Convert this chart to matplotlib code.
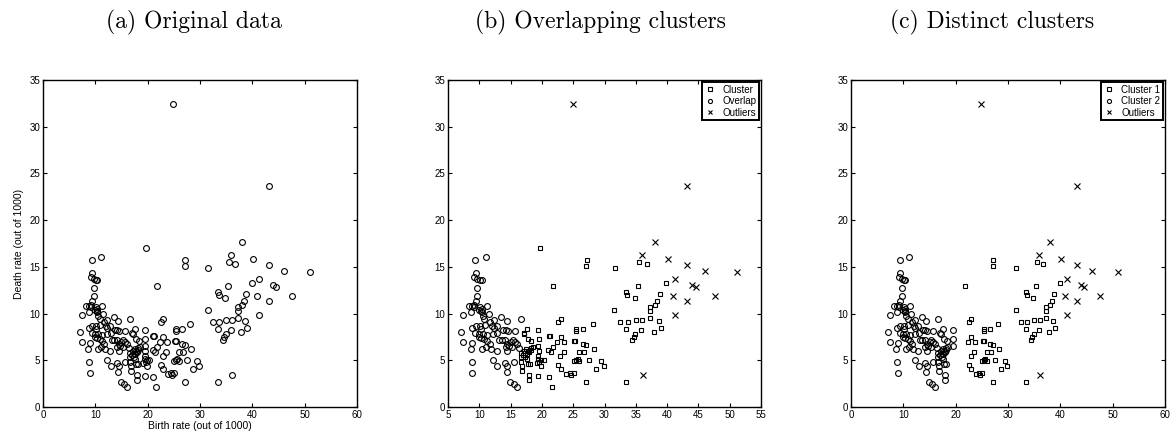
import numpy as np
import matplotlib
matplotlib.use("Agg")
from matplotlib import pyplot as plt

plt.rcParams["font.family"] = ["Liberation Sans", "DejaVu Sans"]

# low birth rate group: overlap points in (b), cluster 2 in (c)
left_birth = [9.3, 11.0, 9.43, 9.1, 9.7, 10.06, 10.4, 9.7, 9.7, 9.43, 9.1, 8.3, 8.85, 9.1,
              10.06, 11.2, 10.4, 9.9, 10.25, 8.7, 10.4, 7.4, 11.5, 10.6, 10.8, 12.3, 13.5,
              14.4, 16.7, 11.7, 9.43, 10.06, 10.95, 12.1, 12.8, 12.3, 8.8, 10.2, 9.3, 9.9,
              10.6, 11.3, 12.2, 12.9, 13.8, 14.2, 14.6, 15.7, 7.0, 7.45, 8.9, 9.9, 10.3,
              10.8, 11.3, 11.7, 11.9, 12.8, 13.1, 13.6, 14.1, 14.5, 15.0, 15.35, 15.7, 16.1,
              14.2, 14.7, 14.5, 15.2, 10.5, 8.6, 11.1, 16.4, 8.85, 8.9, 12.2, 12.9, 14.1,
              14.5, 14.4, 15.6, 14.9, 15.5, 16.0]
left_death = [15.7, 16.07, 14.36, 13.93, 13.75, 13.64, 13.54, 12.75, 11.86, 11.3, 10.9, 10.86,
              10.8, 10.75, 10.7, 10.8, 10.5, 10.36, 10.25, 10.14, 10.14, 9.82, 9.93, 9.7,
              9.46, 9.36, 9.64, 9.2, 9.43, 9.07, 8.71, 8.68, 8.79, 8.64, 8.71, 8.43, 8.43,
              8.36, 7.96, 7.79, 7.79, 7.75, 7.79, 7.89, 8.29, 8.29, 8.14, 8.18, 8.04, 6.93,
              6.86, 7.5, 7.43, 7.29, 7.07, 6.79, 6.25, 6.0, 7.21, 7.18, 7.14, 6.79, 7.0, 7.21,
              6.96, 6.79, 6.46, 6.5, 5.96, 6.43, 6.25, 6.25, 6.43, 6.32, 4.82, 3.61, 5.04,
              4.43, 4.68, 4.43, 3.75, 4.86, 2.64, 2.43, 2.14]

# cluster points in (b) that join cluster 2 in (c)
mid_birth = [17.6, 19.4, 19.55, 19.4, 16.6, 17.2, 17.5, 17.8, 18.2, 18.5, 17.0, 17.3, 17.6,
             18.0, 18.2, 17.6, 16.7, 16.7, 16.8, 16.8, 17.8, 18.1, 18.0, 18.0, 17.1, 17.7,
             18.3, 17.2]
mid_death = [8.36, 8.25, 7.32, 6.5, 5.82, 6.0, 6.18, 6.04, 6.36, 6.43, 5.54, 5.36, 5.68,
             5.86, 6.07, 5.18, 5.36, 4.82, 4.36, 3.82, 4.64, 4.64, 3.43, 2.93, 7.93, 7.25,
             7.1, 7.82]

# cluster points in (b) left out of both distinct clusters
gap_birth = [19.7, 19.5, 19.4, 19.4, 19.2, 19.6, 19.9, 19.9, 20.3, 19.4, 21.1, 21.65, 21.0,
             21.4, 21.1, 21.3, 21.7]
gap_death = [17.07, 6.0, 5.5, 5.14, 4.71, 4.82, 4.43, 5.0, 5.07, 3.29, 3.2, 2.14, 6.14,
             5.93, 7.57, 7.57, 6.43]

# high birth rate group: cluster in (b), cluster 1 in (c)
right_birth = [21.8, 27.2, 27.1, 31.6, 35.5, 36.75, 39.9, 35.3, 33.4, 33.6, 34.8, 38.8, 38.4,
               38.0, 37.3, 37.2, 31.5, 32.5, 33.7, 35.0, 36.05, 37.3, 38.65, 39.05, 33.4,
               35.9, 37.9, 34.9, 34.65, 34.4, 33.4, 23.0, 22.5, 22.4, 23.6, 23.0, 25.5, 25.5,
               26.5, 28.1, 23.5, 22.9, 25.2, 25.35, 25.9, 26.8, 26.5, 27.1, 28.3, 25.05, 25.7,
               25.9, 25.5, 27.5, 29.4, 29.9, 28.6, 22.5, 23.0, 23.9, 24.5, 24.65, 25.1, 27.1]
right_death = [13.0, 15.7, 15.07, 14.9, 15.5, 15.3, 13.3, 12.96, 12.3, 12.0, 11.7, 12.07,
               11.36, 10.96, 10.7, 10.3, 10.4, 9.14, 9.07, 9.32, 9.32, 9.5, 9.2, 8.5, 8.32,
               8.25, 8.0, 7.8, 7.5, 7.2, 2.68, 9.43, 9.07, 6.93, 6.93, 7.5, 8.4, 8.14, 8.32,
               8.93, 5.9, 5.43, 7.03, 7.1, 5.93, 5.86, 6.7, 6.6, 6.2, 4.93, 5.14, 4.93, 5.07,
               5.04, 4.93, 4.43, 4.04, 4.46, 4.1, 3.5, 3.68, 3.43, 3.64, 2.68]

outlier_birth = [24.9, 43.2, 38.1, 36.0, 40.1, 43.1, 46.05, 51.1, 41.3, 43.9, 44.6, 40.95,
                 43.25, 47.6, 41.3, 36.2]
outlier_death = [32.4, 23.7, 17.7, 16.3, 15.8, 15.25, 14.6, 14.5, 13.75, 13.1, 12.85, 11.85,
                 11.3, 11.9, 9.9, 3.4]

titles = ["(a) Original data", "(b) Overlapping clusters", "(c) Distinct clusters"]
title_x = [194, 600, 992]


def pts(*groups):
    return np.concatenate([np.asarray(g, dtype=float) for g in groups])


def style_axes(ax, xticks):
    ax.set_xlim(xticks[0], xticks[-1])
    ax.set_ylim(0, 35)
    ax.set_xticks(xticks)
    ax.set_yticks(range(0, 36, 5))
    ax.tick_params(direction="in", top=True, right=True, length=3, width=0.8,
                   labelsize=7, pad=2)
    for s in ax.spines.values():
        s.set_linewidth(1.0)


def marks(ax, x, y, marker, size, label=None):
    ax.plot(x, y, linestyle="none", marker=marker, mfc="none", mec="k",
            ms=size, mew=0.8, label=label)


fig = plt.figure(figsize=(11.73, 4.33), dpi=100)
W, H = 1173.0, 433.0
boxes = [(43, 357), (448, 761), (851, 1165)]
axes = [fig.add_axes([l / W, 1 - 407 / H, (r - l) / W, (407 - 80) / H]) for l, r in boxes]

# (a) everything as circles
ax = axes[0]
marks(ax, pts(left_birth, mid_birth, gap_birth, right_birth, outlier_birth),
      pts(left_death, mid_death, gap_death, right_death, outlier_death), "o", 4.2)
style_axes(ax, list(range(0, 61, 10)))
ax.set_xlabel("Birth rate (out of 1000)", fontsize=7.5, labelpad=1)
ax.set_ylabel("Death rate (out of 1000)", fontsize=7.5, labelpad=4)

# (b) overlapping clusters
ax = axes[1]
marks(ax, pts(mid_birth, gap_birth, right_birth), pts(mid_death, gap_death, right_death),
      "s", 3.3, "Cluster")
marks(ax, pts(left_birth), pts(left_death), "o", 4.2, "Overlap")
marks(ax, pts(outlier_birth), pts(outlier_death), "x", 4.2, "Outliers")
style_axes(ax, list(range(5, 56, 5)))

# (c) distinct clusters
ax = axes[2]
marks(ax, pts(right_birth), pts(right_death), "s", 3.3, "Cluster 1")
marks(ax, pts(left_birth, mid_birth), pts(left_death, mid_death), "o", 4.2, "Cluster 2")
marks(ax, pts(outlier_birth), pts(outlier_death), "x", 4.2, "Outliers")
style_axes(ax, list(range(0, 61, 10)))

for ax in axes[1:]:
    leg = ax.legend(loc="upper right", fontsize=7, markerscale=0.7, handlelength=1.2,
                    handletextpad=0.6, borderpad=0.25, labelspacing=0.15,
                    borderaxespad=0.25, fancybox=False, framealpha=1, edgecolor="k")
    leg.get_frame().set_linewidth(1.4)

for t, x in zip(titles, title_x):
    fig.text(x / W, 1 - 22 / H, t, ha="center", va="center", fontsize=17, family="cmr10")

fig.savefig("out.png", dpi=100)
